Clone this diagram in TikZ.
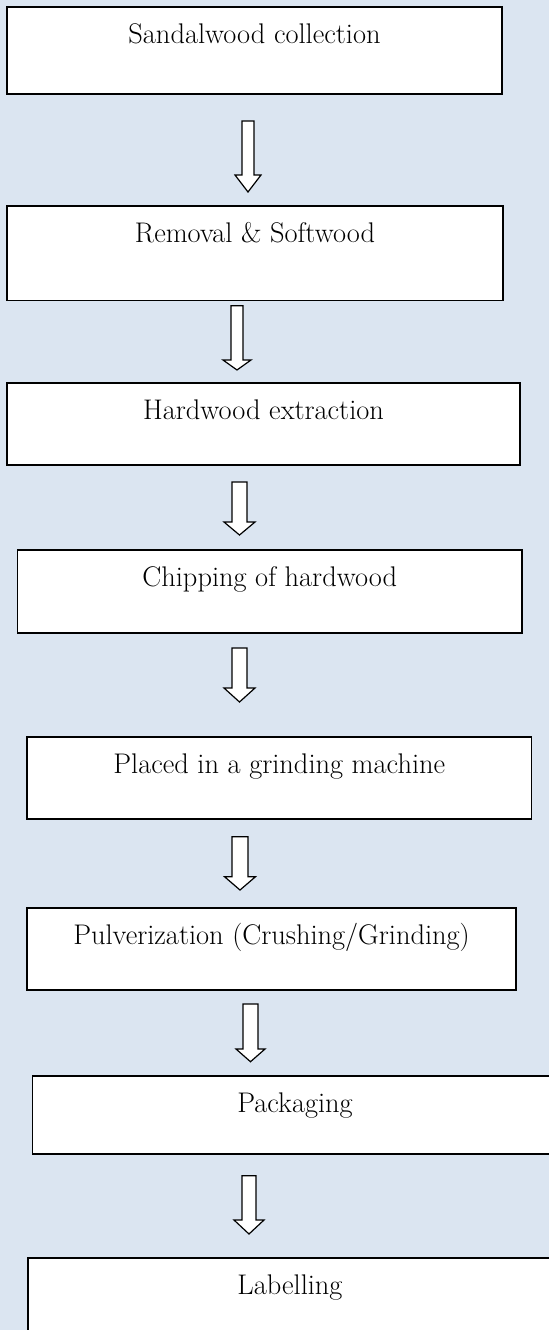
\documentclass[tikz,border=0pt]{standalone}
\usetikzlibrary{calc}
\definecolor{pagebg}{RGB}{219,229,241}
\tikzset{
  stepbox/.style={draw=black, fill=white, line width=1.4pt, rectangle, inner sep=0pt, outer sep=0pt},
  steplabel/.style={anchor=base, inner sep=0pt, font=\fontsize{21.3}{25}\selectfont},
  arrowbody/.style={draw=black, fill=white, line width=0.9pt, line join=miter}
}
\begin{document}
\begin{tikzpicture}[x=0.75pt, y=-0.75pt]
            \useasboundingbox (0,0) rectangle (549,1330);
            \fill[pagebg] (0,0) rectangle (549,1330);
            \clip (0,0) rectangle (549,1330);
            % boxes
            \node[stepbox, minimum width=495*0.75pt, minimum height=87*0.75pt] (b1) at (254.5,50.5) {};
            \node[stepbox, minimum width=496*0.75pt, minimum height=94.5*0.75pt] (b2) at (255,253.25) {};
            \node[stepbox, minimum width=513*0.75pt, minimum height=82*0.75pt] (b3) at (263.5,424) {};
            \node[stepbox, minimum width=504.5*0.75pt, minimum height=83*0.75pt] (b4) at (269.75,591.5) {};
            \node[stepbox, minimum width=504.5*0.75pt, minimum height=82*0.75pt] (b5) at (279.25,778) {};
            \node[stepbox, minimum width=489*0.75pt, minimum height=82*0.75pt] (b6) at (271.5,949) {};
            \node[stepbox, minimum width=525*0.75pt, minimum height=78*0.75pt] (b7) at (295,1115) {};
            \node[stepbox, minimum width=524*0.75pt, minimum height=84*0.75pt] (b8) at (290,1300) {};
            % texts
            \node[steplabel] (l1) at ($(b1.north)+(0,36.5)$) {Sandalwood collection};
            \node[steplabel] (l2) at ($(b2.north)+(0,36.5)$) {Removal \& Softwood};
            \node[steplabel] (l3) at ($(b3.north)+(0,36.5)$) {Hardwood extraction};
            \node[steplabel] (l4) at ($(b4.north)+(0,36.5)$) {Chipping of hardwood};
            \node[steplabel] (l5) at ($(b5.north)+(0,36.5)$) {Placed in a grinding machine};
            \node[steplabel] (l6) at ($(b6.north)+(0,36.5)$) {Pulverization (Crushing/Grinding)};
            \node[steplabel] (l7) at ($(b7.north)+(0,36.5)$) {Packaging};
            \node[steplabel] (l8) at ($(b8.north)+(0,36.5)$) {Labelling};
            % block arrows: name/x/top/head start/tip/shaft half/head half
            \foreach \n/\ax/\at/\ah/\ap/\sw/\hw in {1/248/121/175/192/6/13, 2/237/305.7/360/370/6/14,
                3/239.5/482/522/535/7.5/15.5, 4/239.5/648/688/702/7.5/15.5, 5/240/836.7/876.7/890/8/15.5,
                6/250.5/1004/1049/1061.7/7.5/14.5, 7/249/1175.7/1220/1234/7/15}{
              \coordinate (a\n top) at (\ax,\at);
              \coordinate (a\n tip) at (\ax,\ap);
              \draw[arrowbody] ($(a\n top)+(-\sw,0)$) -- ($(a\n top)+(\sw,0)$) -- (\ax+\sw,\ah) -- (\ax+\hw,\ah)
                -- (a\n tip) -- (\ax-\hw,\ah) -- (\ax-\sw,\ah) -- cycle;
            }
        \end{tikzpicture}
\end{document}
